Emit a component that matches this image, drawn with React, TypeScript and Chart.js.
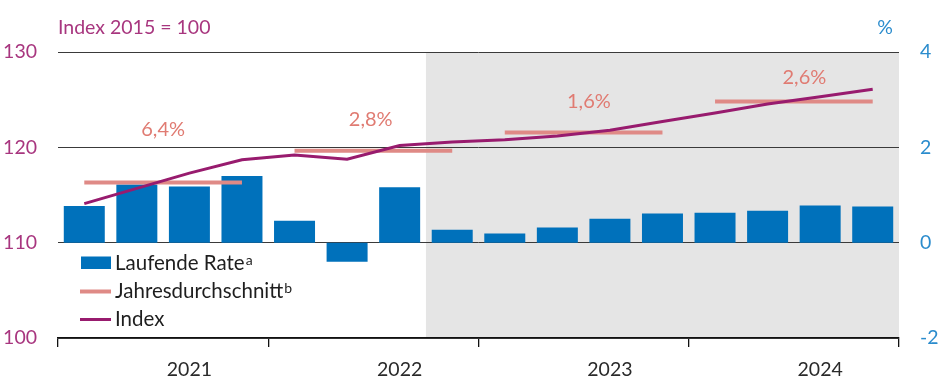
import React, { useEffect, useRef } from 'react';
import { Chart, registerables } from 'chart.js';

Chart.register(...registerables);

// ---------- data ----------
const categories = [
  'Q1 2021', 'Q2 2021', 'Q3 2021', 'Q4 2021',
  'Q1 2022', 'Q2 2022', 'Q3 2022', 'Q4 2022',
  'Q1 2023', 'Q2 2023', 'Q3 2023', 'Q4 2023',
  'Q1 2024', 'Q2 2024', 'Q3 2024', 'Q4 2024',
];
const years = ['2021', '2022', '2023', '2024'];

// Laufende Rate (%, right axis)
const laufendeRate = [0.77, 1.22, 1.18, 1.40, 0.46, -0.40, 1.16, 0.27, 0.19, 0.32, 0.50, 0.61, 0.63, 0.67, 0.78, 0.76];
// Index 2015 = 100 (left axis)
const indexValues = [114.1, 115.7, 117.3, 118.7, 119.2, 118.75, 120.2, 120.55, 120.8, 121.2, 121.8, 122.7, 123.6, 124.55, 125.3, 126.1];
// Jahresdurchschnitt of the index (left axis), one per year
const annualAverage = [116.3, 119.65, 121.55, 124.8];
// annual inflation labels and their anchor (category position, index value)
const annualRateLabels = ['6,4%', '2,8%', '1,6%', '2,6%'];
const annualLabelX = [1.5, 5.45, 9.6, 13.7];
const annualLabelY = [121.9, 122.9, 124.8, 127.3];

const forecastStart = 7; // first quarter of the shaded (forecast) period

const leftTicks = [100, 110, 120, 130];
const rightTicks = [-2, 0, 2, 4];

const seriesLabels = ['Laufende Rate', 'Jahresdurchschnitt', 'Index'];
const seriesSup = ['a', 'b', ''];

// ---------- styles ----------
const FONT = 'Lato, "Open Sans", "DejaVu Sans", sans-serif';
const BLUE = '#0071bb';
const BLUE_TXT = '#2b8ccd';
const PURPLE = '#981b6e';
const PURPLE_TXT = '#a8367f';
const SALMON = '#df8a86';
const SALMON_TXT = '#e07b72';
const SHADE = '#e5e5e5';
const GRID = '#3a3a3a';
const TEXT = '#1e1e1e';

export default function App() {
  const ref = useRef<HTMLCanvasElement>(null);

  useEffect(() => {
    document.body.style.margin = '0';
    const canvas = ref.current;
    if (!canvas) return;

    const avgPerQuarter = categories.map((_, i) => annualAverage[Math.floor(i / 4)]);

    const shadePlugin = {
      id: 'shade',
      beforeDraw(chart: any) {
        const { ctx, chartArea, scales } = chart;
        const x = scales.x;
        const sx = (x.getPixelForValue(forecastStart - 1) + x.getPixelForValue(forecastStart)) / 2;
        ctx.save();
        ctx.fillStyle = SHADE;
        ctx.fillRect(sx, chartArea.top, chartArea.right - sx, chartArea.bottom - chartArea.top);
        ctx.restore();
      },
    };

    const overlayPlugin = {
      id: 'overlay',
      afterDatasetsDraw(chart: any) {
        const { ctx, scales } = chart;
        ctx.save();
        // annual rate labels
        ctx.font = `20px ${FONT}`;
        ctx.fillStyle = SALMON_TXT;
        ctx.textAlign = 'center';
        ctx.textBaseline = 'middle';
        annualRateLabels.forEach((t, i) => {
          ctx.fillText(t, scales.x.getPixelForValue(annualLabelX[i]), scales.y.getPixelForValue(annualLabelY[i]));
        });

        // legend
        const lx = 81;
        const tx = 115;
        const rows = [263, 291.5, 319.5];
        ctx.fillStyle = BLUE;
        ctx.fillRect(lx, 256.5, 30, 12.5);
        ctx.strokeStyle = SALMON;
        ctx.lineWidth = 4;
        ctx.beginPath();
        ctx.moveTo(lx - 1, rows[1]);
        ctx.lineTo(lx + 30, rows[1]);
        ctx.stroke();
        ctx.strokeStyle = PURPLE;
        ctx.lineWidth = 3;
        ctx.beginPath();
        ctx.moveTo(lx - 1, rows[2]);
        ctx.lineTo(lx + 30, rows[2]);
        ctx.stroke();
        ctx.textAlign = 'left';
        ctx.textBaseline = 'middle';
        seriesLabels.forEach((t, i) => {
          ctx.font = `20.5px ${FONT}`;
          ctx.fillStyle = TEXT;
          ctx.fillText(t, tx, rows[i]);
          if (seriesSup[i]) {
            const w = ctx.measureText(t).width;
            ctx.font = `14px ${FONT}`;
            ctx.fillText(seriesSup[i], tx + w + 1, rows[i] - 3);
          }
        });
        ctx.restore();
      },
      afterDraw(chart: any) {
        const { ctx } = chart;
        ctx.save();
        ctx.textBaseline = 'middle';
        ctx.font = `19.5px ${FONT}`;
        ctx.fillStyle = PURPLE_TXT;
        ctx.textAlign = 'left';
        ctx.fillText('Index 2015 = 100', 58, 28);
        ctx.fillStyle = BLUE_TXT;
        ctx.textAlign = 'right';
        ctx.fillText('%', 893, 28);
        ctx.restore();
      },
    };

    const chart = new Chart(canvas, {
      type: 'bar',
      data: {
        labels: categories,
        datasets: [
          {
            type: 'bar',
            label: seriesLabels[0],
            data: laufendeRate,
            yAxisID: 'y1',
            backgroundColor: BLUE,
            borderWidth: 0,
            categoryPercentage: 1,
            barPercentage: 0.78,
            order: 3,
          },
          {
            type: 'line',
            label: seriesLabels[1],
            data: avgPerQuarter,
            yAxisID: 'y',
            borderColor: SALMON,
            borderWidth: 4,
            pointRadius: 0,
            borderCapStyle: 'butt',
            segment: {
              borderColor: (ctx: any) => (ctx.p0DataIndex % 4 === 3 ? 'rgba(0,0,0,0)' : SALMON),
            },
            order: 2,
          } as any,
          {
            type: 'line',
            label: seriesLabels[2],
            data: indexValues,
            yAxisID: 'y',
            borderColor: PURPLE,
            borderWidth: 3,
            pointRadius: 0,
            tension: 0,
            order: 1,
          },
        ],
      },
      options: {
        responsive: false,
        animation: false,
        layout: { padding: { top: 52, left: 0, right: 0, bottom: 0 } },
        plugins: {
          legend: { display: false },
          tooltip: { enabled: false },
          title: { display: false },
        },
        scales: {
          x: {
            type: 'category',
            offset: true,
            grid: {
              offset: true,
              drawOnChartArea: false,
              drawTicks: true,
              tickLength: 9,
              lineWidth: 1.3,
              color: (ctx: any) => (ctx.index === undefined || ctx.index % 4 === 0 ? '#111' : 'rgba(0,0,0,0)'),
            },
            border: { display: true, color: '#111', width: 1.3 },
            ticks: {
              autoSkip: false,
              maxRotation: 0,
              minRotation: 0,
              padding: 11,
              color: '#2a2a2a',
              font: { family: FONT, size: 19.5 },
              callback: (_v: any, i: number) => (i % 4 === 2 ? years[Math.floor(i / 4)] : ''),
            },
            afterFit: (s: any) => { s.height = 44; },
          },
          y: {
            type: 'linear',
            position: 'left',
            min: leftTicks[0],
            max: leftTicks[leftTicks.length - 1],
            afterBuildTicks: (s: any) => { s.ticks = leftTicks.map((v) => ({ value: v })); },
            grid: { color: GRID, lineWidth: 1, drawTicks: false },
            border: { display: false },
            ticks: {
              padding: 21,
              color: PURPLE_TXT,
              font: { family: FONT, size: 19.5 },
            },
            afterFit: (s: any) => { s.width = 58; },
          },
          y1: {
            type: 'linear',
            position: 'right',
            min: rightTicks[0],
            max: rightTicks[rightTicks.length - 1],
            afterBuildTicks: (s: any) => { s.ticks = rightTicks.map((v) => ({ value: v })); },
            grid: { display: false, drawTicks: false },
            border: { display: false },
            ticks: {
              padding: 21,
              color: BLUE_TXT,
              font: { family: FONT, size: 19.5 },
            },
            afterFit: (s: any) => { s.width = 44; },
          },
        },
      },
      plugins: [shadePlugin, overlayPlugin],
    });

    return () => chart.destroy();
  }, []);

  return <canvas ref={ref} width={943} height={382} style={{ display: 'block', width: 943, height: 382 }} />;
}
